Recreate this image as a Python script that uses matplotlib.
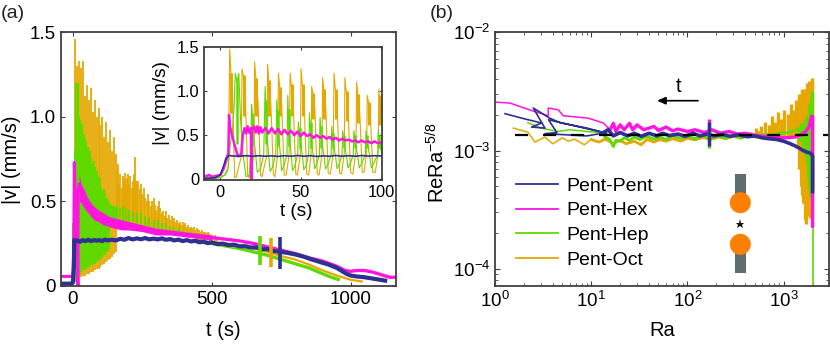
# -*- coding: utf-8 -*-
import numpy as np
import matplotlib
matplotlib.use('Agg')
import matplotlib.pyplot as plt
from matplotlib.patches import Rectangle, Circle

plt.rcParams['font.family'] = ['Liberation Sans', 'DejaVu Sans']
plt.rcParams['mathtext.default'] = 'regular'

BLUE = '#2E3192'
MAG = '#FF14E0'
GREEN = '#5FD900'
ORANGE = '#E5A800'
EDGE = '#404040'

labels = ['Pent-Pent', 'Pent-Hex', 'Pent-Hep', 'Pent-Oct']

# panel a, oscillating phases: strokes between low and high
oct_t = [8, 15, 22, 29, 36, 43, 50, 57, 64, 71, 78, 85, 92, 99, 106, 113, 120, 127, 134, 141, 148, 155,
         159, 163, 167, 171, 175, 179, 183, 187, 191, 195, 199, 203, 207, 211, 215, 219, 223, 227, 231,
         235, 240, 245, 250, 255, 260, 265, 270, 275, 280, 285, 290, 295, 300, 305, 310, 315, 320, 325,
         330, 335, 340, 345, 350, 355, 360, 365, 370, 375, 380, 385, 390, 395, 400, 405, 410, 415, 420,
         425, 430, 435, 440, 445, 450, 455, 460, 465, 470, 475, 480, 485, 490, 495, 500, 510, 520]
oct_high = [1.46, 1.3, 1.33, 1.29, 1.33, 1.12, 1.19, 1.1, 1.17, 1.03, 1.1, 1.0, 1.05, 0.95, 1.0, 0.88, 0.97, 0.85, 0.92, 0.8, 0.88, 0.78,
            0.68, 0.72, 0.6, 0.66, 0.58, 0.65, 0.62, 0.67, 0.6, 0.64, 0.66, 0.6, 0.65, 0.58, 0.62, 0.66, 0.76, 0.62, 0.6,
            0.62, 0.57, 0.6, 0.54, 0.58, 0.52, 0.5, 0.54, 0.5, 0.47, 0.5, 0.52, 0.48, 0.45, 0.47, 0.5, 0.46, 0.43, 0.44,
            0.41, 0.44, 0.4, 0.42, 0.39, 0.41, 0.38, 0.4, 0.38, 0.39, 0.37, 0.38, 0.36, 0.38, 0.36, 0.37, 0.35, 0.36, 0.34,
            0.35, 0.34, 0.35, 0.33, 0.34, 0.33, 0.33, 0.32, 0.33, 0.32, 0.32, 0.31, 0.32, 0.31, 0.3, 0.3, 0.3, 0.29]
oct_low = [0.02, 0.04, 0.05, 0.05, 0.06, 0.06, 0.07, 0.07, 0.08, 0.08, 0.09, 0.1, 0.1, 0.11, 0.12, 0.13, 0.14, 0.15, 0.16, 0.17, 0.19, 0.2,
           0.38, 0.38, 0.38, 0.38, 0.38, 0.38, 0.37, 0.37, 0.37, 0.37, 0.37, 0.37, 0.36, 0.36, 0.36, 0.36, 0.36, 0.36, 0.36,
           0.35, 0.35, 0.35, 0.35, 0.35, 0.35, 0.34, 0.34, 0.34, 0.34, 0.34, 0.33, 0.33, 0.33, 0.33, 0.33, 0.33, 0.32, 0.32,
           0.32, 0.32, 0.32, 0.31, 0.31, 0.31, 0.31, 0.31, 0.3, 0.3, 0.3, 0.3, 0.3, 0.3, 0.29, 0.29, 0.29, 0.29, 0.29,
           0.29, 0.28, 0.28, 0.28, 0.28, 0.28, 0.28, 0.28, 0.27, 0.27, 0.27, 0.27, 0.27, 0.27, 0.26, 0.26, 0.26, 0.26]
hep_t = [0, 6, 10, 14, 18, 22, 26, 30, 34, 38, 42, 46, 50, 54, 58, 62, 66, 70, 74, 78, 82, 86, 90, 94, 98,
         102, 106, 110, 114, 118, 122, 126, 130, 136, 142, 148, 154, 160, 170, 180, 190, 200, 215, 230,
         245, 260, 275, 290, 305, 320, 335, 350, 365, 380, 395, 410, 425, 440, 450]
hep_high = [0.37, 0.8, 1.2, 1.18, 1.2, 1.0, 0.98, 0.95, 0.96, 0.9, 0.87, 0.85, 0.82, 0.82, 0.78, 0.8, 0.75, 0.72, 0.74, 0.7, 0.66, 0.68, 0.65, 0.62, 0.64,
            0.58, 0.56, 0.57, 0.54, 0.52, 0.52, 0.5, 0.49, 0.48, 0.47, 0.47, 0.46, 0.48, 0.46, 0.47, 0.46, 0.45, 0.44, 0.43,
            0.43, 0.41, 0.4, 0.39, 0.39, 0.37, 0.37, 0.35, 0.35, 0.34, 0.33, 0.32, 0.32, 0.31, 0.31]
hep_low = [0.0, 0.02, 0.04, 0.05, 0.06, 0.07, 0.07, 0.08, 0.09, 0.09, 0.1, 0.1, 0.11, 0.11, 0.11, 0.12, 0.12, 0.12, 0.13, 0.13, 0.14, 0.14, 0.15, 0.15, 0.16,
           0.16, 0.17, 0.18, 0.18, 0.2, 0.2, 0.21, 0.22, 0.34, 0.35, 0.35, 0.36, 0.36, 0.36, 0.36, 0.36, 0.36, 0.36, 0.36,
           0.35, 0.35, 0.34, 0.34, 0.33, 0.33, 0.32, 0.32, 0.31, 0.31, 0.3, 0.3, 0.29, 0.29, 0.28]

# panel a, smooth parts
oct_tail_t = [500, 600, 700, 750, 800, 850, 900, 950, 1000, 1040]
oct_tail_v = [0.26, 0.24, 0.2, 0.175, 0.155, 0.125, 0.09, 0.06, 0.035, 0.025]
hep_start_t = [-43, -5, 0]
hep_start_v = [0.008, 0.008, 0.01]
hep_tail_t = [450, 500, 550, 600, 650, 675, 700, 750, 800, 850, 900, 930, 955]
hep_tail_v = [0.275, 0.25, 0.235, 0.22, 0.2, 0.19, 0.18, 0.155, 0.13, 0.105, 0.07, 0.05, 0.037]
mag_band_t = [22, 30, 40, 50, 60, 75, 90, 110, 130, 150, 175, 200, 250, 300, 350, 400, 450, 500]
mag_band_high = [0.66, 0.6, 0.57, 0.53, 0.5, 0.47, 0.45, 0.43, 0.41, 0.4, 0.39, 0.38, 0.36, 0.34, 0.33, 0.32, 0.31, 0.3]
mag_band_low = [0.5, 0.49, 0.46, 0.44, 0.42, 0.39, 0.38, 0.36, 0.35, 0.34, 0.33, 0.33, 0.32, 0.3, 0.3, 0.29, 0.28, 0.27]
mag_start_t = [-43, -5, 0, 3, 5, 7, 12, 18, 18.5, 22]
mag_start_v = [0.055, 0.055, 0.06, 0.2, 0.73, 0.6, 0.35, 0.0, 0.55, 0.6]
mag_tail_t = [500, 550, 600, 650, 700, 750, 800, 850, 900, 950, 980, 1000, 1020, 1050, 1080, 1110, 1140, 1163]
mag_tail_v = [0.285, 0.275, 0.265, 0.25, 0.23, 0.21, 0.19, 0.165, 0.145, 0.115, 0.09, 0.085, 0.09, 0.09, 0.08, 0.065, 0.05, 0.05]
pent_t = [-43, -5, 0, 3, 5, 7, 15, 25, 35, 45, 55, 65, 75, 85, 95, 105, 115, 125, 140, 155, 170, 185, 200, 215, 230, 245,
          260, 275, 290, 305, 320, 335, 350, 365, 380, 395, 410, 425, 440, 455, 470, 485, 500, 520, 540, 560, 580, 600,
          620, 640, 660, 680, 700, 720, 745, 770, 800, 830, 860, 890, 920, 950, 965, 985, 1000, 1020, 1050, 1080, 1124]
pent_v = [0.012, 0.012, 0.02, 0.1, 0.27, 0.262, 0.268, 0.26, 0.27, 0.264, 0.272, 0.264, 0.27, 0.267, 0.27, 0.264, 0.273, 0.268, 0.272, 0.268, 0.278, 0.272, 0.282, 0.274, 0.28, 0.275,
          0.282, 0.274, 0.279, 0.274, 0.28, 0.272, 0.276, 0.268, 0.273, 0.264, 0.27, 0.262, 0.266, 0.257, 0.26, 0.252, 0.256, 0.246, 0.249, 0.24, 0.243, 0.233,
          0.234, 0.226, 0.227, 0.216, 0.217, 0.206, 0.2, 0.195, 0.185, 0.172, 0.155, 0.14, 0.125, 0.105, 0.09, 0.07, 0.06, 0.055, 0.05, 0.042, 0.03]
event_t = [675, 712, 745]
event_low = [0.125, 0.11, 0.1]
event_high = [0.295, 0.285, 0.29]

# inset
in_oct_t = [-10, -6, -3, 0, 3, 5, 5.8, 6.8, 7.5, 8.3, 9, 10, 11.5, 13, 13.5, 14.5, 15.5, 16.3, 17, 18, 19.5, 21, 21.3, 22.3, 23.4, 24.2, 25, 26, 27.5, 29, 29.4, 30.3, 31.3, 32.2, 33, 34, 35.6, 36.2, 37.2, 38.2, 39, 39.8, 41, 42.8, 43.5, 44.4, 45.4, 46.2, 47, 48, 49.8, 50.3, 51.3, 52.3, 53, 53.8, 55, 56.5, 56.9, 57.9, 58.9, 59.6, 60.4, 61.5, 63.3, 63.7, 64.7, 65.7, 66.5, 67.2, 68.5, 70.3, 70.8, 71.8, 72.8, 73.6, 74.3, 75.5, 77.2, 77.6, 78.6, 79.6, 80.4, 81.1, 82.5, 84.4, 84.9, 85.9, 86.9, 87.7, 88.4, 89.5, 91.1, 91.5, 92.5, 93.5, 94.3, 95, 96.5, 98.3, 98.7, 99.5, 100.5]
in_oct_v = [0.015, 0.03, 0.02, 0.02, 0.06, 0.15, 1.47, 1.15, 1.05, 0.4, 0.02, 0.03, 0.15, 0.25, 1.25, 1.15, 0.95, 0.5, 0.05, 0.02, 0.15, 0.26, 1.33, 1.1, 0.9, 0.5, 0.05, 0.03, 0.16, 0.27, 1.3, 1.08, 0.9, 0.5, 0.06, 0.03, 0.27, 1.2, 1.0, 0.85, 0.45, 0.05, 0.05, 0.27, 1.2, 1.03, 0.85, 0.45, 0.06, 0.05, 0.28, 1.25, 1.02, 0.82, 0.42, 0.06, 0.05, 0.28, 1.05, 0.95, 0.78, 0.4, 0.06, 0.05, 0.28, 1.15, 0.98, 0.8, 0.4, 0.07, 0.06, 0.3, 1.2, 0.98, 0.78, 0.4, 0.07, 0.06, 0.3, 1.15, 0.95, 0.75, 0.4, 0.08, 0.06, 0.3, 1.1, 0.92, 0.72, 0.38, 0.08, 0.08, 0.3, 0.95, 0.85, 0.7, 0.38, 0.08, 0.08, 0.3, 1.02, 0.8, 0.65]
in_oct_core_t = [6.8, 14.5, 22.3, 30.3, 37.2, 44.4, 51.3, 57.9, 64.7, 71.8, 78.6, 85.9, 92.5, 99.5]
in_oct_core_low = [0.75, 0.72, 0.72, 0.72, 0.72, 0.72, 0.72, 0.68, 0.68, 0.68, 0.66, 0.64, 0.62, 0.62]
in_oct_core_high = [1.2, 1.18, 1.15, 1.12, 1.05, 1.08, 1.08, 0.98, 1.02, 1.02, 1.0, 0.96, 0.88, 0.95]
in_hep_t = [-10, -4, 0, 3, 4.5, 5.2, 6, 7.5, 8.5, 9.3, 10.5, 11.5, 12.5, 14, 16, 18, 18.8, 19.5, 21, 22, 23, 25, 27, 27.9, 28.8, 30, 31, 32.5, 34.5, 35.2, 36, 37.3, 38.2, 39.5, 41.5, 42, 42.8, 44, 45, 46.5, 48.2, 48.6, 49.5, 51, 52, 53.5, 55, 55.5, 56.3, 57.8, 58.8, 60, 61.7, 62.1, 63, 64.5, 65.5, 67, 69, 69.4, 70.2, 71.7, 72.7, 74, 75.8, 76.2, 77, 78.5, 79.5, 81, 82.8, 83.2, 84, 85.5, 86.5, 88, 90.3, 90.7, 91.5, 93, 94, 95.5, 98, 98.4, 99.2, 100.5]
in_hep_v = [0.01, 0.01, 0.02, 0.05, 0.1, 0.2, 0.37, 0.55, 0.8, 1.2, 1.1, 1.2, 0.7, 0.3, 0.03, 0.05, 0.28, 0.85, 0.45, 0.28, 0.08, 0.12, 0.28, 1.05, 0.55, 0.3, 0.09, 0.14, 0.28, 0.9, 0.55, 0.3, 0.1, 0.15, 0.28, 0.95, 0.5, 0.3, 0.1, 0.16, 0.28, 0.65, 0.48, 0.28, 0.11, 0.16, 0.28, 0.75, 0.5, 0.28, 0.12, 0.17, 0.28, 0.7, 0.45, 0.28, 0.12, 0.17, 0.28, 0.6, 0.42, 0.27, 0.12, 0.17, 0.28, 0.55, 0.42, 0.27, 0.13, 0.18, 0.28, 0.55, 0.42, 0.27, 0.13, 0.18, 0.28, 0.55, 0.42, 0.27, 0.13, 0.18, 0.28, 0.55, 0.42, 0.28]
in_hep_core_t = [10.5, 19.8, 28.6, 35.9, 42.7, 49.3, 56.2, 62.8, 70.1, 76.9, 83.9, 91.4, 99.1]
in_hep_core_low = [0.4, 0.38, 0.4, 0.38, 0.38, 0.36, 0.36, 0.36, 0.36, 0.35, 0.35, 0.35, 0.35]
in_hep_core_high = [1.15, 0.75, 0.9, 0.78, 0.8, 0.58, 0.65, 0.6, 0.52, 0.5, 0.5, 0.5, 0.5]
in_mag_t = [-10, -7, -5, -3, 0, 2, 3.5, 5, 5.4, 6, 7, 9, 11, 13, 14, 15, 16, 17, 18, 19, 19.3, 19.6, 21, 22, 23, 24, 25, 26, 28, 30, 32, 34, 36, 38, 40, 42, 44, 46, 48, 50, 52, 54, 56, 58, 60, 62, 64, 66, 68, 70, 72, 74, 76, 78, 80, 82, 84, 86, 88, 90, 92, 94, 96, 98, 100.5]
in_mag_v = [0.03, 0.05, 0.03, 0.04, 0.05, 0.12, 0.2, 0.3, 0.73, 0.6, 0.52, 0.38, 0.26, 0.28, 0.5, 0.58, 0.52, 0.6, 0.53, 0.58, 0.0, 0.55, 0.6, 0.53, 0.6, 0.52, 0.59, 0.53, 0.58, 0.52, 0.58, 0.52, 0.57, 0.51, 0.56, 0.51, 0.55, 0.5, 0.54, 0.49, 0.53, 0.49, 0.51, 0.47, 0.5, 0.47, 0.49, 0.46, 0.48, 0.45, 0.47, 0.44, 0.46, 0.44, 0.45, 0.43, 0.44, 0.42, 0.44, 0.42, 0.43, 0.41, 0.43, 0.41, 0.42]
in_pent_t = [-10, -3, 0, 2, 3.5, 5, 8, 12, 16, 20, 24, 28, 32, 36, 40, 44, 48, 52, 56, 60, 64, 68, 72, 76, 80, 84, 88, 92, 96, 100.5]
in_pent_v = [0.01, 0.02, 0.05, 0.15, 0.24, 0.27, 0.265, 0.262, 0.268, 0.262, 0.268, 0.262, 0.266, 0.26, 0.268, 0.262, 0.27, 0.262, 0.268, 0.26, 0.266, 0.262, 0.27, 0.262, 0.268, 0.262, 0.27, 0.264, 0.268, 0.265]

# panel b, in units of 1e-3
re_mag_ra = [1, 1.43, 2.4, 3.58, 3.58, 4.55, 5.13, 9.3, 13.4, 15.7, 17, 18, 20, 22, 25, 27, 30, 35, 40, 45, 50, 60, 70, 80, 100, 120, 150, 180, 220, 270, 330, 400, 500, 600, 800, 1000, 1300, 1500, 1700, 1850, 1950, 2000, 2000]
re_mag_v = [2.57, 2.52, 2.18, 1.97, 2.29, 2.21, 1.97, 1.88, 1.71, 1.5, 1.7, 1.45, 1.65, 1.5, 1.7, 1.5, 1.65, 1.5, 1.55, 1.6, 1.48, 1.58, 1.47, 1.52, 1.45, 1.5, 1.42, 1.5, 1.4, 1.45, 1.38, 1.4, 1.35, 1.32, 1.3, 1.28, 1.3, 1.35, 1.45, 1.6, 1.95, 1.95, 0.23]
mag_split = 9
re_pent_ra = [1.27, 2.05, 3.05, 2.4, 3.3, 2.5, 3.7, 4.74, 9, 14.5, 3.6, 4.4, 3.3, 9, 13, 15, 17, 20, 24, 28, 33, 40, 48, 55, 65, 80, 95, 115, 135, 160, 190, 230, 280, 340, 420, 500, 600, 700, 850, 1000, 1150, 1300, 1450, 1600, 1750, 1900, 1960, 2000, 2000]
re_pent_v = [2.05, 1.85, 1.71, 1.58, 1.55, 2.29, 1.88, 1.72, 1.55, 1.4, 1.82, 1.42, 1.39, 1.33, 1.4, 1.5, 1.33, 1.42, 1.33, 1.4, 1.32, 1.4, 1.33, 1.4, 1.34, 1.38, 1.32, 1.4, 1.33, 1.38, 1.33, 1.37, 1.32, 1.36, 1.31, 1.33, 1.28, 1.26, 1.24, 1.2, 1.15, 1.1, 1.05, 1.0, 0.97, 0.95, 0.92, 0.9, 0.45]
pent_split = 14
re_hep_ra = [2.2, 3, 4.5, 6, 9, 12, 14, 15.5, 17, 18, 20, 22, 25, 28, 32, 38, 45, 52, 60, 70, 85, 100, 120, 145, 175, 210, 250, 300, 360, 430, 520, 620, 750, 900, 1100, 1300, 1500]
re_hep_v = [1.72, 1.55, 1.45, 1.5, 1.45, 1.42, 1.3, 1.25, 1.08, 1.22, 1.2, 1.28, 1.22, 1.3, 1.24, 1.32, 1.25, 1.3, 1.24, 1.33, 1.27, 1.32, 1.26, 1.33, 1.27, 1.32, 1.27, 1.34, 1.28, 1.34, 1.3, 1.36, 1.35, 1.4, 1.42, 1.48, 1.55]
hep_split = 6
re_oct_ra = [1.55, 2.2, 2.6, 3.3, 4, 4.4, 5, 5.8, 6.7, 8.5, 10, 12, 14, 17, 20, 23, 28, 33, 38, 45, 52, 60, 70, 85, 100, 120, 145, 175, 210, 250, 300, 360, 430, 500, 560]
re_oct_v = [1.55, 1.43, 1.18, 1.3, 1.14, 1.2, 1.28, 1.2, 1.25, 1.12, 1.24, 1.18, 1.25, 1.15, 1.22, 1.14, 1.2, 1.12, 1.24, 1.18, 1.24, 1.2, 1.26, 1.2, 1.27, 1.23, 1.29, 1.24, 1.3, 1.26, 1.32, 1.27, 1.36, 1.32, 1.42]
oct_split = 10
fan_oct_ra = [520, 580, 640, 700, 760, 820, 880, 950, 1020, 1100, 1180, 1260, 1340, 1400, 1450, 1500, 1550, 1600, 1650, 1700, 1750, 1800, 1850, 1900, 1950, 1990]
fan_oct_high = [1.55, 1.6, 1.75, 1.65, 1.95, 1.75, 2.1, 1.85, 2.2, 2.05, 2.5, 2.2, 2.7, 2.4, 3.0, 2.6, 3.3, 2.9, 3.3, 3.2, 3.7, 3.4, 3.9, 3.7, 4.1, 4.0]
fan_oct_low = [1.3, 1.3, 1.3, 1.3, 1.3, 1.3, 1.3, 1.3, 1.3, 1.3, 1.3, 1.3, 1.28, 1.1, 0.7, 0.5, 0.42, 0.36, 0.26, 0.24, 0.32, 0.28, 0.3, 0.27, 0.4, 0.45]
fan_hep_ra = [1450, 1520, 1600, 1680, 1740, 1790, 1840, 1880, 1920, 1960, 1990]
fan_hep_high = [1.6, 1.7, 1.7, 1.8, 2.0, 2.0, 2.5, 2.4, 2.8, 3.1, 3.2]
fan_hep_low = [1.2, 1.2, 1.1, 0.9, 0.75, 0.6, 0.5, 0.42, 0.4, 0.36, 0.3]
hep_end_ra = [2000, 2000]
hep_end_v = [0.4, 0.072]
event_b_ra = [166, 166, 166]
event_b_low = [1.05, 1.1, 1.08]
event_b_high = [1.6, 1.75, 1.85]
fit_v = 1.36


def style(ax, size):
    ax.tick_params(which='both', direction='in', top=True, right=True, color=EDGE, labelsize=size)
    for s in ax.spines.values():
        s.set_color(EDGE)
        s.set_linewidth(1.3)


def pxaxes(l, t, r, b):
    return fig.add_axes([l / 830, 1 - b / 349, (r - l) / 830, (b - t) / 349])


fig = plt.figure(figsize=(8.3, 3.49), dpi=100)

# panel a
ax = pxaxes(61, 32.3, 396, 285.7)
ax.vlines(oct_t, oct_low, oct_high, color=ORANGE, lw=1.3)
ax.plot(oct_tail_t, oct_tail_v, color=ORANGE, lw=1.6)
ax.vlines(hep_t, hep_low, hep_high, color=GREEN, lw=1.5)
ax.plot(hep_start_t, hep_start_v, color=GREEN, lw=1.5)
ax.plot(hep_tail_t, hep_tail_v, color=GREEN, lw=2.4)
ax.fill_between(mag_band_t, mag_band_low, mag_band_high, color=MAG, lw=0, zorder=2)
ax.plot(mag_start_t, mag_start_v, color=MAG, lw=2.2)
ax.plot(mag_tail_t, mag_tail_v, color=MAG, lw=2.4)
ax.plot(pent_t, pent_v, color=BLUE, lw=3.0)
ax.vlines(event_t[0], event_low[0], event_high[0], color=GREEN, lw=2.6)
ax.vlines(event_t[1], event_low[1], event_high[1], color=ORANGE, lw=2.6)
ax.vlines(event_t[2], event_low[2], event_high[2], color=BLUE, lw=2.6)
ax.set_xlim(-43, 1163)
ax.set_ylim(0, 1.5)
ax.set_xticks([0, 500, 1000])
ax.set_yticks([0, 0.5, 1.0, 1.5])
ax.set_yticklabels(['0', '0.5', '1.0', '1.5'])
ax.set_xlabel('t (s)', fontsize=14.5)
ax.set_ylabel('|v| (mm/s)', fontsize=14.5)
ax.xaxis.set_label_coords(0.484, -0.14)
ax.yaxis.set_label_coords(-0.119, 0.496)
style(ax, 13.5)
ax.tick_params(length=3)

# inset
ins = pxaxes(204.3, 46.7, 381.7, 180.3)
ins.plot(in_oct_t, in_oct_v, color=ORANGE, lw=0.8)
ins.vlines(in_oct_core_t, in_oct_core_low, in_oct_core_high, color=ORANGE, lw=2.2)
ins.plot(in_hep_t, in_hep_v, color=GREEN, lw=0.8)
ins.vlines(in_hep_core_t, in_hep_core_low, in_hep_core_high, color=GREEN, lw=1.8)
ins.plot(in_mag_t, in_mag_v, color=MAG, lw=1.8)
ins.plot(in_pent_t, in_pent_v, color=BLUE, lw=1.2)
ins.set_xlim(-10, 100.5)
ins.set_ylim(-0.01, 1.5)
ins.set_xticks([0, 50, 100])
ins.set_yticks([0, 0.5, 1.0, 1.5])
ins.set_yticklabels(['0', '0.5', '1.0', '1.5'])
ins.set_xlabel('t (s)', fontsize=13.7)
ins.set_ylabel('|v| (mm/s)', fontsize=13.7)
ins.xaxis.set_label_coords(0.52, -0.17)
ins.yaxis.set_label_coords(-0.193, 0.58)
style(ins, 11.8)
ins.tick_params(length=2.5)

# panel b
bx = pxaxes(495, 32.3, 829.3, 285.7)
sc = 1e-3
bx.set_xscale('log')
bx.set_yscale('log')
bx.vlines(fan_oct_ra, np.array(fan_oct_low) * sc, np.array(fan_oct_high) * sc, color=ORANGE, lw=2.4)
l4, = bx.plot(re_oct_ra[:oct_split + 1], np.array(re_oct_v[:oct_split + 1]) * sc, color=ORANGE, lw=1.1)
bx.plot(re_oct_ra[oct_split:], np.array(re_oct_v[oct_split:]) * sc, color=ORANGE, lw=2.0)
bx.vlines(fan_hep_ra, np.array(fan_hep_low) * sc, np.array(fan_hep_high) * sc, color=GREEN, lw=2.2)
bx.plot(hep_end_ra, np.array(hep_end_v) * sc, color=GREEN, lw=1.2)
l3, = bx.plot(re_hep_ra[:hep_split + 1], np.array(re_hep_v[:hep_split + 1]) * sc, color=GREEN, lw=1.1)
bx.plot(re_hep_ra[hep_split:], np.array(re_hep_v[hep_split:]) * sc, color=GREEN, lw=2.0)
l2, = bx.plot(re_mag_ra[:mag_split + 1], np.array(re_mag_v[:mag_split + 1]) * sc, color=MAG, lw=1.1)
bx.plot(re_mag_ra[mag_split:], np.array(re_mag_v[mag_split:]) * sc, color=MAG, lw=2.4)
l1, = bx.plot(re_pent_ra[:pent_split + 1], np.array(re_pent_v[:pent_split + 1]) * sc, color=BLUE, lw=1.2)
bx.plot(re_pent_ra[pent_split:], np.array(re_pent_v[pent_split:]) * sc, color=BLUE, lw=2.6)
bx.vlines(event_b_ra[0], event_b_low[0] * sc, event_b_high[0] * sc, color=GREEN, lw=2.4)
bx.vlines(event_b_ra[2], 1.25 * sc, event_b_high[2] * sc, color=MAG, lw=2.4)
bx.vlines(event_b_ra[1], event_b_low[1] * sc, event_b_high[1] * sc, color=BLUE, lw=2.4)
bx.plot([1.6, 2985], [fit_v * sc, fit_v * sc], color='black', lw=1.6, dashes=(5.9, 6.7))
bx.set_xlim(1, 2985)
bx.set_ylim(7.2e-5, 1e-2)
bx.set_xlabel('Ra', fontsize=14.5)
bx.set_ylabel('ReRa$^{-5/8}$', fontsize=14.5)
bx.xaxis.set_label_coords(0.499, -0.14)
bx.yaxis.set_label_coords(-0.138, 0.485)
style(bx, 13.5)
bx.tick_params(which='major', length=3.5)
bx.tick_params(which='minor', length=2)
bx.yaxis.set_minor_formatter(matplotlib.ticker.NullFormatter())
bx.legend([l1, l2, l3, l4], labels, frameon=False, fontsize=14, loc='upper left',
          bbox_to_anchor=(515.7 / 830, 1 - 177 / 349), bbox_transform=fig.transFigure,
          borderpad=0, borderaxespad=0, handlelength=2.17, handletextpad=0.46, labelspacing=0.37)
for leg_line in bx.get_legend().get_lines():
    leg_line.set_linewidth(1.3)

# overlay: panel letters, arrow, molecule sketch
top = fig.add_axes([0, 0, 1, 1], facecolor='none')
top.set_xlim(0, 830)
top.set_ylim(349, 0)
top.axis('off')
top.text(1, 13, '(a)', fontsize=14, va='center', ha='left', color='#222222')
top.text(430, 13, '(b)', fontsize=14, va='center', ha='left', color='#222222')
top.annotate('', xy=(657, 100.7), xytext=(698, 100.7),
             arrowprops=dict(arrowstyle='-|>,head_width=0.22,head_length=0.5', color='black', lw=1.2, shrinkA=0, shrinkB=0))
top.text(679, 87, 't', fontsize=14.5, ha='center', va='center')
top.add_patch(Rectangle((735, 173.5), 10.7, 30, color='#5E6E6E', lw=0))
top.add_patch(Rectangle((735, 244), 10.7, 29, color='#5E6E6E', lw=0))
top.add_patch(Circle((740.3, 202.7), 10.5, color='#FF8000', lw=0))
top.add_patch(Circle((740.3, 244.3), 10.5, color='#FF8000', lw=0))
top.plot([740], [224], marker='*', color='#111111', ms=6.5, mew=0)

fig.savefig('out.png', dpi=100)
